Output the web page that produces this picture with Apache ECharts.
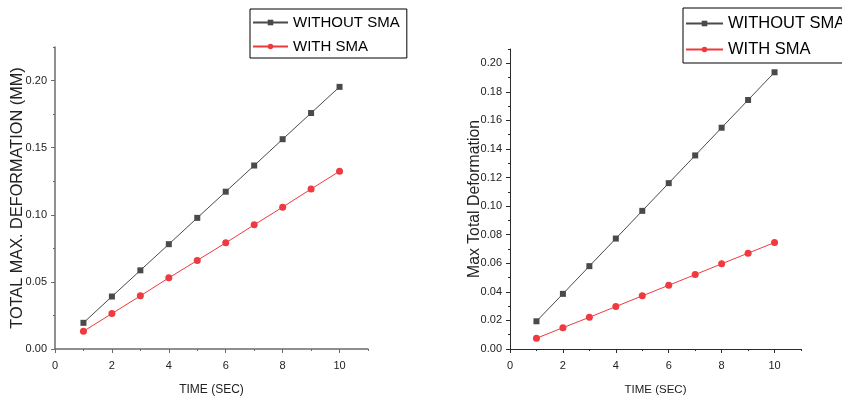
<!DOCTYPE html>
<html><head><meta charset="utf-8">
<script src="https://cdn.jsdelivr.net/npm/echarts@6/dist/echarts.min.js"></script>
<style>html,body{margin:0;padding:0;background:#fff}#c{width:842px;height:396px}</style>
</head><body><div id="c"></div>
<script>
const time = [1,2,3,4,5,6,7,8,9,10];
const leftWithout = [0.0195,0.0391,0.0586,0.0781,0.0977,0.1172,0.1367,0.1563,0.1758,0.1953];
const leftWith    = [0.0132,0.0264,0.0396,0.0530,0.0660,0.0791,0.0925,0.1057,0.1192,0.1324];
const rightWithout = [0.0194,0.0386,0.0580,0.0773,0.0967,0.1161,0.1355,0.1549,0.1743,0.1937];
const rightWith    = [0.0075,0.0149,0.0222,0.0297,0.0372,0.0446,0.0521,0.0596,0.0671,0.0745];
const xMajor = [0,2,4,6,8,10];
const xMinor = [1,3,5,7,9,11];
const leftYMajor = [0,0.05,0.10,0.15,0.20];
const leftYMinor = [0.025,0.075,0.125,0.175,0.225];
const rightYMajor = [0,0.02,0.04,0.06,0.08,0.10,0.12,0.14,0.16,0.18,0.20];
const rightYMinor = [0.01,0.03,0.05,0.07,0.09,0.11,0.13,0.15,0.17,0.19,0.21];
const seriesNames = ['WITHOUT SMA','WITH SMA'];
const leftYName = 'TOTAL MAX. DEFORMATION (MM)';
const rightYName = 'Max Total Deformation';
const xName = 'TIME (SEC)';

const FONT = 'Liberation Sans, Arial, sans-serif';
const GRAY = '#4a4a4a', RED = '#ef3a3f';
const pairs = a => time.map((t,i)=>[t,a[i]]);

function xAxes(grid, axisColor, lw, nameSize) {
  return [
    {type:'value', gridIndex:grid, min:0, max:11, name:xName, nameLocation:'middle', nameGap:35, nameMoveOverlap:false,
     nameTextStyle:{fontFamily:FONT,fontSize:nameSize,color:'#222'},
     axisLine:{lineStyle:{color:axisColor,width:lw}},
     axisTick:{show:true,inside:false,length:4,customValues:xMajor,lineStyle:{color:axisColor,width:1}},
     axisLabel:{customValues:xMajor,margin:11,fontFamily:FONT,fontSize:11,color:'#222'},
     splitLine:{show:false}},
    {type:'value', gridIndex:grid, min:0, max:11, position:'bottom',
     axisLine:{show:false},
     axisTick:{show:true,length:2,customValues:xMinor,lineStyle:{color:axisColor,width:1}},
     axisLabel:{show:false}, splitLine:{show:false}}
  ];
}
function yAxes(grid, max, major, minor, name, axisColor, lw, nameGap, nameSize) {
  return [
    {type:'value', gridIndex:grid, min:0, max:max, position:'left', name:name, nameLocation:'middle', nameGap:nameGap, nameMoveOverlap:false,
     nameTextStyle:{fontFamily:FONT,fontSize:nameSize,color:'#222'},
     axisLine:{show:true,lineStyle:{color:axisColor,width:lw}},
     axisTick:{show:true,length:4,customValues:major,lineStyle:{color:axisColor,width:1}},
     axisLabel:{customValues:major,margin:8,fontFamily:FONT,fontSize:11,color:'#222',formatter:v=>v.toFixed(2)},
     splitLine:{show:false}},
    {type:'value', gridIndex:grid, min:0, max:max, position:'left', offset:0,
     axisLine:{show:false},
     axisTick:{show:true,length:2,customValues:minor,lineStyle:{color:axisColor,width:1}},
     axisLabel:{show:false}, splitLine:{show:false}}
  ];
}
function legend(left, top, itemWidth, fontSize, pad, gap, names) {
  return {orient:'vertical', left:left, top:top, align:'left', itemWidth:itemWidth, itemHeight:7, itemGap:gap,
    padding:pad, borderColor:'#000', borderWidth:1, backgroundColor:'#fff', data:names,
    textStyle:{fontFamily:FONT,fontSize:fontSize,color:'#000'}};
}
function lineSeries(name, data, xi, yi, color, symbol, size) {
  return {type:'line', name:name, data:pairs(data), xAxisIndex:xi, yAxisIndex:yi,
    symbol:symbol, symbolSize:size, showSymbol:true,
    lineStyle:{color:color,width:1}, itemStyle:{color:color}, animation:false};
}

const chart = echarts.init(document.getElementById('c'), null, {renderer:'canvas'});
const leftNames = seriesNames.map(n=>n+' ');
chart.setOption({
  animation:false,
  backgroundColor:'#fff',
  grid:[
    {left:55, top:47, width:313, height:302, containLabel:false, outerBoundsMode:'none'},
    {left:510, top:49, width:291, height:300, containLabel:false, outerBoundsMode:'none'}
  ],
  xAxis:[...xAxes(0,'#6b6b6b',1.5,12), ...xAxes(1,'#2a2a2a',1,11.5)],
  yAxis:[...yAxes(0,0.225,leftYMajor,leftYMinor,leftYName,'#6b6b6b',1.5,29,16.3),
         ...yAxes(1,0.21,rightYMajor,rightYMinor,rightYName,'#2a2a2a',1,27,15.8)],
  legend:[
    legend(250,9,35,15,[6,3,4,2],9,leftNames),
    legend(683,8,37,16.5,[7,3,5,2],9,seriesNames)
  ],
  series:[
    lineSeries(leftNames[0], leftWithout, 0, 0, GRAY, 'rect', 6),
    lineSeries(leftNames[1], leftWith, 0, 0, RED, 'circle', 7),
    lineSeries(seriesNames[0], rightWithout, 2, 2, GRAY, 'rect', 6),
    lineSeries(seriesNames[1], rightWith, 2, 2, RED, 'circle', 7)
  ]
});
</script></body></html>
